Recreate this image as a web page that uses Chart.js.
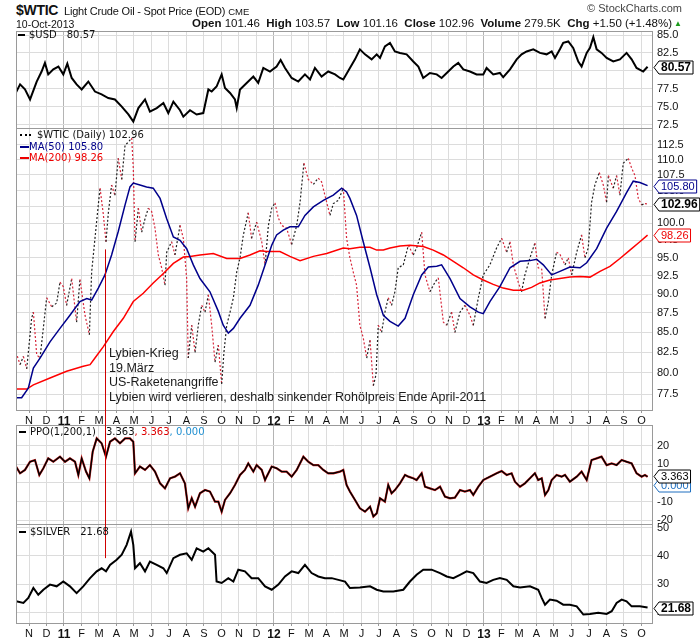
<!DOCTYPE html>
<html>
<head>
<meta charset="utf-8">
<script src="https://cdn.jsdelivr.net/npm/chart.js@4.4.0/dist/chart.umd.min.js"></script>
<style>
body { margin: 0; background: #fff; }
#wrap { position: relative; width: 700px; height: 639px; overflow: hidden; font-family: "Liberation Sans", Arial, sans-serif; color: #111; }
canvas { position: absolute; left: 0; }
.t { position: absolute; white-space: nowrap; }
.lg { position: absolute; white-space: nowrap; font: 10px "DejaVu Sans", Verdana, sans-serif; line-height: 12px; color: #111; }
.mk { display: inline-block; width: 7px; height: 2px; background: #000; vertical-align: middle; margin-right: 4px; }
.gap { margin-left: 10px; }
</style>
</head>
<body>
<div id="wrap">
  <canvas id="usd"></canvas>
  <canvas id="main"></canvas>
  <canvas id="ppo"></canvas>
  <canvas id="silver"></canvas>

  <div class="t" style="left:16px;top:2px;font-size:14px;font-weight:bold;letter-spacing:-0.3px">$WTIC</div>
  <div class="t" style="left:64px;top:5px;font-size:11px;letter-spacing:-0.2px">Light Crude Oil - Spot Price (EOD) <span style="font-size:9.5px;letter-spacing:0">CME</span></div>
  <div class="t" style="left:16px;top:18px;font-size:10.5px">10-Oct-2013</div>
  <div class="t" style="right:28px;top:17px;font-size:11.5px"><b>Open</b> 101.46 &nbsp;<b>High</b> 103.57 &nbsp;<b>Low</b> 101.16 &nbsp;<b>Close</b> 102.96 &nbsp;<b>Volume</b> 279.5K &nbsp;<b>Chg</b> +1.50 (+1.48%)</div>
  <div class="t" style="left:674px;top:19px;font-size:8px;color:#1a9a1a">&#9650;</div>
  <div class="t" style="right:18px;top:2px;font-size:11px;color:#444">&copy; StockCharts.com</div>

  <div class="lg" style="left:18px;top:29px"><span class="mk"></span>$USD<span class="gap">80.57</span></div>

  <div class="lg" style="left:20px;top:129px"><span style="display:inline-block;width:11px;border-top:2px dotted #000;vertical-align:middle;margin-right:6px"></span>$WTIC (Daily) 102.96</div>
  <div class="lg" style="left:20px;top:141px;color:#00008b"><span class="mk" style="background:#00008b;width:9px;margin-right:0"></span>MA(50) 105.80</div>
  <div class="lg" style="left:20px;top:152px;color:#ee0000"><span class="mk" style="background:#ee0000;width:9px;margin-right:0"></span>MA(200) 98.26</div>

  <div class="lg" style="left:19px;top:426px"><span class="mk"></span>PPO(1,200,1)<span class="gap">3.363</span><span style="color:#dd0000">, 3.363</span><span style="color:#1f8fd0">, 0.000</span></div>
  <div class="lg" style="left:19px;top:526px"><span class="mk"></span>$SILVER<span class="gap">21.68</span></div>

  <div class="t" style="left:109px;top:346px;font-size:12.5px;line-height:14.5px;color:#1a1a1a">Lybien-Krieg<br>19.März<br>US-Raketenangriffe<br>Lybien wird verlieren, deshalb sinkender Rohölpreis Ende April-2011</div>
</div>

<script>
// month index: 0 = Nov 2010 ... 35 = Oct 2013
const monthLabels = ['N','D','11','F','M','A','M','J','J','A','S','O','N','D','12','F','M','A','M','J','J','A','S','O','N','D','13','F','M','A','M','J','J','A','S','O'];
const yearLabels = ['11','12','13'];
const xMin = -0.743, xMax = 35.66;

// $USD
const usdAt = [-0.74,-0.51,-0.23,0.06,0.44,0.72,0.91,1.10,1.39,1.68,1.96,2.19,2.44,2.72,3.01,3.39,3.77,4.15,4.53,4.91,5.30,5.68,5.96,6.25,6.63,6.91,7.30,7.68,7.96,8.25,8.63,8.82,9.20,9.58,9.96,10.25,10.44,10.72,11.01,11.20,11.49,11.77,11.87,12.06,12.44,12.82,13.10,13.39,13.77,14.15,14.38,14.63,15.01,15.39,15.77,16.06,16.34,16.72,17.10,17.49,17.77,17.96,18.34,18.63,18.91,19.20,19.58,19.87,20.06,20.34,20.63,20.91,21.20,21.58,21.96,22.25,22.53,22.91,23.30,23.58,23.96,24.25,24.53,24.82,25.20,25.58,25.96,26.15,26.53,26.91,27.10,27.49,27.87,28.15,28.44,28.82,29.20,29.58,29.87,30.06,30.34,30.53,30.82,31.10,31.39,31.58,31.87,32.06,32.25,32.44,32.72,33.01,33.39,33.77,34.15,34.44,34.72,35.10,35.35];
const usdClose = [77.0,78.1,77.4,76.0,78.5,79.9,81.1,79.5,80.2,80.6,79.5,81.0,79.0,78.1,77.4,78.5,77.1,76.7,76.2,76.0,75.0,73.9,72.9,74.8,76.0,74.3,74.8,75.5,74.1,75.7,74.5,73.6,74.5,73.9,74.1,77.4,77.1,77.8,79.5,77.6,76.9,76.0,74.8,77.4,78.3,79.2,78.3,80.4,79.9,80.6,81.5,80.4,79.0,78.5,79.5,78.8,80.4,79.2,79.9,79.5,79.0,78.8,80.4,81.6,83.0,82.3,81.6,82.3,81.8,83.4,83.9,82.7,82.5,82.3,81.3,80.6,79.0,79.7,79.5,79.0,79.9,80.6,81.1,80.2,79.9,79.5,79.5,80.4,79.5,79.7,79.1,80.2,81.6,82.3,82.7,83.0,82.5,82.3,82.7,81.8,83.0,83.9,84.1,83.2,81.3,80.6,82.5,83.2,84.7,83.0,82.5,81.8,81.3,81.6,82.5,81.6,80.4,79.9,80.57];
const usdTicks = [72.5,75,77.5,80,82.5,85];

// $WTIC daily close (read at turning points)
const wticAt = [-0.74,-0.51,-0.32,-0.13,0.15,0.25,0.44,0.63,1.01,1.30,1.58,1.77,1.96,2.15,2.44,2.72,2.91,3.20,3.45,3.58,3.77,3.96,4.06,4.25,4.40,4.53,4.72,4.91,5.10,5.30,5.49,5.68,5.87,5.96,6.06,6.25,6.44,6.63,6.82,7.01,7.20,7.39,7.58,7.77,7.87,8.15,8.34,8.63,8.82,9.01,9.10,9.30,9.49,9.68,9.87,10.06,10.25,10.44,10.63,10.82,11.01,11.14,11.30,11.49,11.68,11.87,12.06,12.25,12.53,12.72,13.01,13.30,13.49,13.68,13.87,14.06,14.25,14.44,14.72,15.01,15.30,15.49,15.71,15.96,16.25,16.53,16.72,16.91,17.20,17.39,17.68,17.96,18.15,18.34,18.53,18.72,18.91,19.10,19.30,19.49,19.68,19.83,19.96,20.15,20.34,20.53,20.72,20.91,21.10,21.39,21.68,21.96,22.15,22.44,22.63,22.91,23.20,23.39,23.68,23.87,24.15,24.34,24.63,24.91,25.20,25.39,25.68,25.96,26.34,26.72,27.01,27.30,27.49,27.68,27.96,28.15,28.34,28.63,28.91,29.10,29.30,29.49,29.68,29.87,30.15,30.34,30.63,30.82,31.01,31.30,31.58,31.77,31.96,32.15,32.34,32.59,32.82,33.01,33.11,33.39,33.58,33.77,33.96,34.25,34.44,34.63,34.82,35.01,35.20,35.35];
const wticClose = [82.5,81.0,82.0,80.5,86.8,87.6,82.2,81.8,89.5,88.3,88.8,91.6,91.0,88.5,92.1,86.3,92.0,87.2,84.7,93.0,97.8,102.8,105.4,101.3,97.3,101.5,105.9,104.3,110.2,106.8,112.4,112.9,113.6,108.6,97.3,102.3,98.7,100.7,102.3,101.8,99.3,95.4,93.6,91.2,95.8,97.3,95.4,99.7,97.8,92.1,81.8,85.9,82.5,86.0,88.5,87.6,89.9,85.9,81.3,83.4,78.7,82.5,85.9,87.6,89.5,93.0,95.0,98.3,101.6,97.8,100.2,97.3,94.0,99.7,102.3,103.1,100.8,99.7,99.3,96.9,99.7,103.2,109.4,106.8,106.0,107.0,106.4,104.3,101.2,103.0,103.5,105.4,97.8,95.0,93.0,91.2,85.9,84.3,81.8,84.0,78.5,79.8,85.9,85.0,87.6,89.5,88.5,90.3,93.6,94.0,96.8,95.4,96.4,98.7,92.6,90.3,91.6,92.2,86.3,85.9,87.6,85.0,87.6,88.5,87.2,85.9,89.5,92.6,94.0,96.4,97.8,95.8,97.3,94.0,91.6,90.3,92.6,95.0,97.1,93.6,93.4,86.8,89.0,92.6,95.8,95.5,94.0,95.0,92.6,95.8,98.3,95.0,96.4,103.2,105.9,107.9,105.9,103.2,107.4,105.4,107.4,104.3,109.4,110.2,108.6,107.4,103.8,102.8,103.0,102.96];

// MA(50)
const ma50At = [-0.74,-0.42,-0.04,0.25,0.63,1.20,1.77,2.34,2.91,3.30,3.58,3.96,4.34,4.72,5.10,5.49,5.77,5.96,6.34,6.72,7.10,7.49,7.87,8.25,8.63,9.01,9.39,9.77,10.34,10.82,11.10,11.39,11.68,12.06,12.63,13.10,13.49,13.87,14.15,14.53,14.91,15.39,15.77,16.25,16.82,17.39,17.87,18.15,18.34,18.72,19.10,19.49,19.87,20.25,20.63,21.10,21.49,21.96,22.44,22.82,23.30,23.58,24.06,24.63,25.20,25.68,25.96,26.34,26.91,27.49,28.06,28.63,29.01,29.39,29.87,30.34,30.91,31.49,31.87,32.44,33.01,33.58,34.15,34.53,34.91,35.35];
const ma50 = [77.1,77.1,78.2,80.6,81.8,83.8,85.5,87.2,89.0,89.4,89.2,90.8,92.6,95.4,98.8,102.8,105.6,106.2,105.9,105.6,105.4,103.8,100.7,98.0,97.5,96.3,94.0,92.1,90.3,87.7,85.9,84.9,85.5,86.8,88.5,91.2,94.0,96.8,98.3,99.0,99.5,99.5,101.2,102.5,103.5,104.3,105.4,104.8,103.8,101.2,97.3,93.6,89.9,87.2,86.4,85.8,86.8,89.9,92.6,93.7,93.8,94.0,92.1,89.4,88.3,87.6,87.4,89.0,91.0,93.6,94.5,94.6,94.8,94.0,92.6,93.1,93.7,93.6,94.3,96.3,99.3,101.8,104.7,106.5,106.3,105.80];

// MA(200)
const ma200At = [-0.74,-0.13,0.25,1.20,2.15,3.10,3.49,3.77,4.25,4.82,5.39,5.96,6.53,7.10,7.68,8.25,8.82,9.20,9.77,10.53,11.30,12.06,12.63,13.20,13.58,14.34,14.91,15.49,16.25,17.01,17.96,18.34,18.91,19.49,19.87,20.25,20.63,21.20,21.77,22.53,23.10,23.68,24.25,24.82,25.39,25.96,26.53,27.10,27.68,28.25,28.72,29.20,29.77,30.34,30.91,31.49,32.06,32.63,33.20,33.77,34.34,34.91,35.35];
const ma200 = [78.1,78.1,78.6,79.4,80.2,80.8,81.0,81.8,83.2,85.1,86.8,89.0,90.1,91.5,92.8,94.2,95.1,95.2,95.4,95.6,94.9,94.9,95.4,96.0,95.9,95.9,95.2,94.6,95.2,95.6,96.4,96.3,96.5,96.5,96.1,96.1,96.4,96.7,96.8,96.6,96.1,95.4,94.5,93.6,92.6,91.9,91.3,90.8,90.5,90.5,90.9,91.5,91.9,92.1,92.3,92.4,92.3,93.1,93.8,94.9,96.1,97.3,98.26];
const mainTicks = [77.5,80,82.5,85,87.5,90,92.5,95,97.5,100,102.5,105,107.5,110,112.5];

// PPO(1,200,1)
const ppoAt = [-0.74,-0.51,-0.23,0.06,0.34,0.59,0.82,1.10,1.39,1.77,2.06,2.34,2.63,2.82,3.01,3.26,3.45,3.64,3.87,4.15,4.40,4.63,4.91,5.20,5.49,5.77,5.96,6.06,6.34,6.63,6.91,7.20,7.49,7.77,8.06,8.34,8.63,8.91,9.10,9.30,9.49,9.77,10.06,10.34,10.63,10.82,11.01,11.20,11.49,11.77,12.06,12.34,12.53,12.82,13.01,13.30,13.49,13.58,13.87,14.15,14.44,14.72,15.01,15.30,15.68,15.96,16.25,16.53,16.82,17.10,17.39,17.77,17.96,18.15,18.34,18.63,18.91,19.20,19.49,19.68,19.87,20.06,20.34,20.53,20.72,20.91,21.20,21.49,21.68,21.96,22.15,22.44,22.63,22.91,23.20,23.49,23.77,24.06,24.34,24.63,24.91,25.20,25.39,25.68,25.96,26.34,26.72,27.01,27.30,27.58,27.77,28.06,28.34,28.63,28.91,29.10,29.30,29.49,29.68,29.87,30.15,30.44,30.63,30.91,31.30,31.58,31.87,32.15,32.44,32.72,33.01,33.30,33.58,33.87,34.15,34.44,34.72,35.01,35.20,35.35];
const ppo = [8.8,5.2,7.0,11.4,12.3,4.3,7.9,13.2,11.4,14.1,11.4,13.2,11.4,4.3,13.2,6.1,2.5,16.8,23.9,21.3,14.1,22.1,23.9,21.3,23.9,23.9,22.1,5.2,8.8,7.0,9.6,6.1,-0.2,-2.9,2.5,3.4,5.2,-0.2,-13.6,-8.2,-12.7,-5.5,-3.8,-4.6,-10.0,-10.0,-15.4,-9.1,-5.5,-1.1,4.3,7.0,10.5,6.1,9.6,7.0,1.6,3.4,8.8,7.9,6.1,6.1,3.4,7.0,14.1,11.4,9.6,9.6,7.0,5.2,5.2,6.1,7.0,-1.1,-4.6,-9.1,-13.6,-15.4,-12.7,-18.0,-16.3,-8.2,-10.0,-1.1,-5.5,-3.8,-0.2,4.3,3.4,2.5,1.6,5.2,-2.0,-2.9,-3.8,-2.0,-7.3,-8.2,-7.9,-3.8,-4.6,-3.8,-6.4,-2.0,1.6,3.4,5.2,6.4,4.3,5.2,0.7,-2.0,-0.2,2.5,5.2,1.6,2.5,-6.4,-3.8,1.6,4.3,3.4,4.3,0.7,3.4,6.1,1.6,12.3,13.2,14.1,9.6,10.5,9.6,12.3,11.4,10.5,5.2,3.4,4.3,3.363];
const ppoTicks = [-20,-10,0,10,20];

// $SILVER
const silverAt = [-0.74,-0.32,-0.04,0.25,0.53,0.82,1.20,1.58,1.96,2.34,2.72,3.10,3.49,3.87,4.15,4.40,4.63,5.01,5.30,5.58,5.83,5.96,6.06,6.34,6.63,6.91,7.30,7.68,7.87,8.25,8.63,9.01,9.30,9.58,9.96,10.25,10.63,10.72,11.01,11.39,11.68,11.96,12.34,12.72,13.10,13.49,13.87,14.25,14.63,15.01,15.39,15.77,16.15,16.53,16.91,17.30,17.68,18.06,18.34,18.91,19.49,19.87,20.25,20.82,21.39,21.77,22.15,22.53,23.01,23.49,23.87,24.25,24.63,25.01,25.39,25.77,26.15,26.53,26.91,27.30,27.68,28.06,28.63,29.10,29.30,29.49,29.77,30.15,30.53,30.91,31.30,31.68,32.06,32.53,33.01,33.30,33.58,33.87,34.15,34.44,34.91,35.35];
const silver = [23.9,23.3,25.1,28.6,26.2,28.0,29.8,29.2,30.9,29.2,26.8,29.2,32.1,34.5,35.6,34.5,36.8,38.6,40.4,43.9,48.6,43.9,35.6,37.4,34.5,38.0,36.8,35.6,33.9,39.2,40.4,40.9,38.6,42.7,41.5,42.7,40.4,30.9,30.4,32.1,30.9,35.1,34.5,32.1,32.1,29.2,28.0,29.8,32.7,34.5,33.9,36.8,33.9,32.7,32.1,32.1,31.5,30.9,28.6,28.8,29.2,28.0,27.4,27.4,28.0,30.9,33.3,35.1,35.1,33.9,32.7,32.1,33.3,34.5,33.9,30.9,30.4,31.5,32.1,31.5,29.2,28.8,29.2,28.0,25.1,22.7,24.5,24.1,22.7,22.7,22.1,19.2,19.4,19.8,19.4,20.4,23.3,24.5,23.9,22.1,22.1,21.68];
const silverTicks = [20,30,40,50];

// annotation: Libya war, 19 March 2011
const annotAt = 4.34;

const FONT = '"Liberation Sans", Arial, sans-serif';
Chart.defaults.font.family = FONT;
Chart.defaults.font.size = 11;
Chart.defaults.color = '#111';

function pts(xs, ys) {
    return xs.map((x, i) => ({ x: x, y: ys[i] }));
}

function isYear(v) {
    return yearLabels.includes(monthLabels[v]);
}

function drawTag(ctx, x, y, text, color, bold) {
    ctx.font = (bold ? 'bold 12px ' : '11px ') + FONT;
    const w = ctx.measureText(text).width + 4;
    const h = 13;
    ctx.beginPath();
    ctx.moveTo(x, y + 0.5);
    ctx.lineTo(x + 5, y - h / 2 + 0.5);
    ctx.lineTo(x + 5 + w, y - h / 2 + 0.5);
    ctx.lineTo(x + 5 + w, y + h / 2 + 0.5);
    ctx.lineTo(x + 5, y + h / 2 + 0.5);
    ctx.closePath();
    ctx.fillStyle = '#fff';
    ctx.fill();
    ctx.strokeStyle = color;
    ctx.lineWidth = 1;
    ctx.stroke();
    ctx.fillStyle = color;
    ctx.textBaseline = 'middle';
    ctx.textAlign = 'left';
    ctx.fillText(text, x + 7, y + 1);
}

// frame, annotation line and price tags for one panel
function deco(opts) {
    return {
        id: 'deco',
        afterDraw(chart) {
            const ctx = chart.ctx;
            const a = chart.chartArea;
            const xs = chart.scales.x, ys = chart.scales.y;
            ctx.save();
            ctx.strokeStyle = '#9a9a9a';
            ctx.lineWidth = 1;
            ctx.strokeRect(Math.round(a.left) + 0.5, Math.round(a.top) + 0.5, Math.round(a.right - a.left) - 1, Math.round(a.bottom - a.top));
            if (opts.annot) {
                const x = Math.round(xs.getPixelForValue(annotAt)) + 0.5;
                const y0 = opts.annot[0] == null ? 0 : ys.getPixelForValue(opts.annot[0]);
                const y1 = opts.annot[1] == null ? chart.height : ys.getPixelForValue(opts.annot[1]);
                ctx.strokeStyle = '#d00000';
                ctx.beginPath();
                ctx.moveTo(x, y0);
                ctx.lineTo(x, y1);
                ctx.stroke();
            }
            (opts.tags || []).forEach(t => {
                drawTag(ctx, a.right + 1, Math.round(ys.getPixelForValue(t.v)) + (t.dy || 0), t.text, t.color, t.bold);
            });
            ctx.restore();
        }
    };
}

function xFont(c) {
    const yr = c && c.tick && isYear(c.tick.value);
    return { family: FONT, size: yr ? 12 : 11, weight: yr ? 'bold' : 'normal' };
}

function panel(id, top, height, padTop, xHeight, showX, yOpts, datasets, decoOpts) {
    const cv = document.getElementById(id);
    cv.width = 700;
    cv.height = height;
    cv.style.top = top + 'px';
    return new Chart(cv, {
        type: 'line',
        data: { datasets: datasets },
        options: {
            responsive: false,
            animation: false,
            devicePixelRatio: 1,
            layout: { padding: { left: 16, top: padTop, right: 0, bottom: 0 } },
            plugins: { legend: { display: false }, tooltip: { enabled: false } },
            elements: { point: { radius: 0 }, line: { tension: 0 } },
            scales: {
                x: {
                    type: 'linear',
                    min: xMin,
                    max: xMax,
                    afterBuildTicks: s => { s.ticks = monthLabels.map((l, i) => ({ value: i })); },
                    afterFit: s => { s.height = xHeight; s.paddingLeft = 0; s.paddingRight = 0; },
                    border: { display: false },
                    grid: {
                        color: c => (c && c.tick && isYear(c.tick.value)) ? '#b4b4b4' : '#dcdcdc',
                        drawTicks: showX,
                        tickLength: 3,
                        tickColor: '#999'
                    },
                    ticks: {
                        display: showX,
                        autoSkip: false,
                        maxRotation: 0,
                        padding: 1,
                        color: '#111',
                        font: xFont,
                        callback: v => monthLabels[v]
                    }
                },
                y: Object.assign({
                    position: 'right',
                    afterFit: s => { s.width = 47; s.paddingTop = 0; s.paddingBottom = 0; },
                    border: { display: false },
                    grid: { color: '#dcdcdc', drawTicks: false }
                }, yOpts)
            }
        },
        plugins: [deco(decoOpts)]
    });
}

function yTicks(list, digits) {
    return {
        afterBuildTicks: s => { s.ticks = list.map(v => ({ value: v })); },
        ticks: { padding: 4, color: '#111', font: { size: 11 }, callback: v => Number(v).toFixed(digits) }
    };
}

panel('usd', 24, 106, 7, 2.5, false,
    Object.assign({ type: 'linear', min: 72.08, max: 85.56 }, yTicks(usdTicks, 1)),
    [{ data: pts(usdAt, usdClose), borderColor: '#000', borderWidth: 2 }],
    { tags: [{ v: 80.57, text: '80.57', color: '#000', bold: true }] });

panel('main', 122, 303, 6, 15, true,
    Object.assign({ type: 'logarithmic', min: 75.7, max: 115.3 }, yTicks(mainTicks, 1)),
    [
        { data: pts(ma50At, ma50), borderColor: '#00008b', borderWidth: 1.5, order: 0 },
        { data: pts(ma200At, ma200), borderColor: '#ff0000', borderWidth: 1.5, order: 0 },
        {
            data: pts(wticAt, wticClose), borderColor: '#222', borderWidth: 1.2, borderDash: [2, 2], order: 1,
            segment: { borderColor: c => c.p1.parsed.y >= c.p0.parsed.y ? '#222' : '#d8283c' }
        }
    ],
    {
        annot: [96.2, null],
        tags: [
            { v: 98.26, text: '98.26', color: '#ee0000' },
            { v: 105.80, text: '105.80', color: '#00008b' },
            { v: 102.96, text: '102.96', color: '#000', bold: true }
        ]
    });

panel('ppo', 425, 99, 0, 0, false,
    Object.assign({ type: 'linear', min: -22, max: 31.1 }, yTicks(ppoTicks, 0)),
    [
        { data: pts(ppoAt, ppo), borderColor: '#000', borderWidth: 1.4, order: 0 },
        { data: pts(ppoAt, ppo), borderColor: '#cc2020', borderWidth: 2.2, order: 1 }
    ],
    {
        annot: [null, null],
        tags: [
            { v: 0, text: '0.000', color: '#1f6fc0', dy: 2 },
            { v: 3.363, text: '3.363', color: '#000', dy: -1 }
        ]
    });

panel('silver', 518, 121, 6, 16, true,
    Object.assign({ type: 'linear', min: 16.2, max: 51.3 }, yTicks(silverTicks, 0)),
    [{ data: pts(silverAt, silver), borderColor: '#000', borderWidth: 2 }],
    { annot: [null, 39.2], tags: [{ v: 21.68, text: '21.68', color: '#000', bold: true }] });
</script>
</body>
</html>
